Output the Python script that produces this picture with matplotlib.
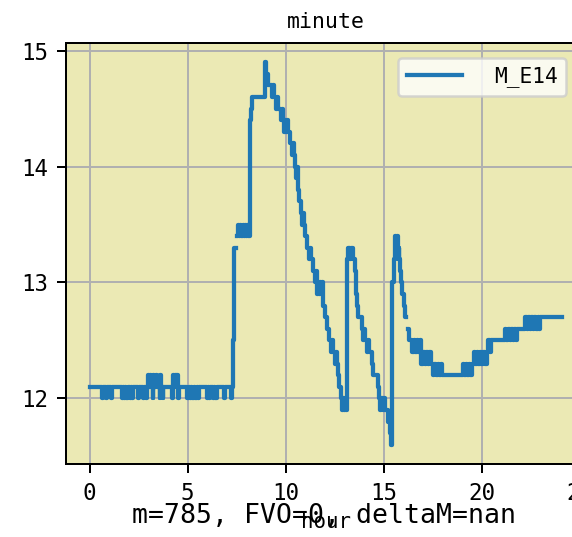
import matplotlib
matplotlib.use('Agg')
import matplotlib.pyplot as plt
from matplotlib.ticker import MultipleLocator
import numpy as np

plt.rcParams['font.family'] = ['DejaVu Sans Mono']

nan = np.nan

# readings per minute, hour of day -> value (step changes only)
# night part, flat around 12.1
hours_night = [0.00, 0.62, 0.67, 0.85, 0.90, 1.08, 1.12,
               1.63, 1.70, 1.76, 1.82, 1.88, 1.94, 2.05, 2.10, 2.16, 2.21,
               2.45, 2.52, 2.70, 2.76, 2.88, 2.93, 2.98, 3.03, 3.10, 3.15,
               3.21, 3.25, 3.30, 3.38, 3.43, 3.57, 3.61, 3.66, 3.72, 3.76,
               4.18, 4.23, 4.30, 4.34, 4.50, 4.55,
               4.98, 5.05, 5.10, 5.17, 5.24, 5.31, 5.38, 5.45, 5.52, 5.60,
               5.97, 6.03, 6.08, 6.14, 6.28, 6.33, 6.40, 6.48, 6.86, 6.92,
               7.20, 7.25]
vals_night = [12.1, 12.0, 12.1, 12.0, 12.1, 12.0, 12.1,
              12.0, 12.1, 12.0, 12.1, 12.0, 12.1, 12.0, 12.1, 12.0, 12.1,
              12.0, 12.1, 12.0, 12.1, 12.0, 12.1, 12.2, 12.1, 12.2, 12.1,
              12.0, 12.2, 12.1, 12.2, 12.1, 12.0, 12.2, 12.1, 12.0, 12.1,
              12.0, 12.2, 12.1, 12.2, 12.0, 12.1,
              12.0, 12.1, 12.0, 12.1, 12.0, 12.1, 12.0, 12.1, 12.0, 12.1,
              12.0, 12.1, 12.0, 12.1, 12.0, 12.1, 12.0, 12.1, 12.0, 12.1,
              12.0, 12.1]

# morning rise and first fall
hours_rise = [7.30, 7.34, 7.38, 7.45,
              7.50, 7.56, 7.62, 7.68, 7.74, 7.80, 7.86, 7.92, 7.98, 8.04, 8.10,
              8.16, 8.22, 8.28,
              8.93, 8.97, 9.05, 9.10, 9.28, 9.33, 9.38,
              9.50, 9.55, 9.60,
              9.75, 9.80, 9.85, 9.90, 9.95, 10.00, 10.05, 10.10,
              10.20, 10.30, 10.35, 10.40, 10.45, 10.50, 10.55, 10.60,
              10.65, 10.70, 10.80, 10.85, 10.90, 10.95,
              11.00, 11.10, 11.20, 11.25, 11.30, 11.40,
              11.50, 11.55, 11.60, 11.65, 11.70, 11.75, 11.80, 11.85,
              11.90, 12.00, 12.10, 12.20, 12.30, 12.35, 12.40,
              12.50, 12.55, 12.60, 12.65, 12.72, 12.80, 12.85, 12.90, 12.95, 13.00, 13.05]
vals_rise = [12.5, 12.9, 13.3, nan,
             13.4, 13.5, 13.4, 13.5, 13.4, 13.5, 13.4, 13.5, 13.4, 13.5, 13.4,
             14.4, 14.5, 14.6,
             14.9, 14.7, 14.8, 14.7, 14.6, 14.7, 14.6,
             14.5, 14.6, 14.5,
             14.4, 14.5, 14.4, 14.3, 14.4, 14.3, 14.4, 14.3,
             14.2, 14.1, 14.2, 14.1, 14.0, 13.9, 14.0, 13.9,
             13.8, 13.7, 13.6, 13.5, 13.6, 13.5,
             13.4, 13.3, 13.2, 13.3, 13.2, 13.1,
             13.0, 13.1, 12.9, 13.0, 12.9, 13.0, 12.9, 13.0,
             12.8, 12.7, 12.6, 12.5, 12.4, 12.5, 12.4,
             12.3, 12.4, 12.3, 12.2, 12.1, 12.0, 11.9, 12.0, 11.9, 12.0, 11.9]

# two afternoon spikes
hours_spikes = [13.10, 13.15, 13.20, 13.25, 13.30, 13.35, 13.42, 13.52,
                13.56, 13.60, 13.64, 13.68,
                13.90, 13.95, 14.00, 14.05, 14.15, 14.20, 14.25,
                14.40, 14.45, 14.70, 14.75, 14.82, 14.88, 14.94, 15.00, 15.06,
                15.20, 15.30, 15.36,
                15.42, 15.50, 15.55, 15.60, 15.65, 15.70, 15.75, 15.80,
                15.85, 15.90, 15.95, 16.02, 16.08, 16.15]
vals_spikes = [13.2, 13.3, 13.2, 13.3, 13.2, 13.3, 13.2, 13.1,
               13.0, 12.9, 12.8, 12.7,
               12.6, 12.5, 12.6, 12.5, 12.4, 12.5, 12.4,
               12.3, 12.2, 12.1, 12.0, 11.9, 12.0, 11.9, 12.0, 11.9,
               11.8, 11.7, 11.6,
               13.0, 13.2, 13.4, 13.3, 13.4, 13.2, 13.3, 13.2,
               13.1, 13.0, 12.9, 12.8, 12.7, nan]

# evening, slow recovery
hours_evening = [16.22, 16.30, 16.45, 16.52, 16.60, 16.68, 16.76, 16.84,
                 16.92, 17.00, 17.08, 17.16, 17.24, 17.32, 17.40,
                 17.50, 17.58, 17.66, 17.74, 17.82, 17.90, 17.98,
                 19.03, 19.10, 19.18, 19.26, 19.34, 19.42, 19.50,
                 19.58, 19.66, 19.74, 19.82, 19.90, 19.98, 20.06, 20.14,
                 20.25, 20.32, 20.40, 20.48,
                 21.17, 21.25, 21.33, 21.41, 21.49, 21.57, 21.65, 21.73, 21.81,
                 22.20, 22.28, 22.36, 22.44, 22.52, 22.60, 22.68, 22.76, 22.84, 22.92, 22.98,
                 24.08]
vals_evening = [12.6, 12.5, 12.4, 12.5, 12.4, 12.5, 12.4, 12.5,
                12.3, 12.4, 12.3, 12.4, 12.3, 12.4, 12.3,
                12.2, 12.3, 12.2, 12.3, 12.2, 12.3, 12.2,
                12.3, 12.2, 12.3, 12.2, 12.3, 12.2, 12.3,
                12.4, 12.3, 12.4, 12.3, 12.4, 12.3, 12.4, 12.3,
                12.4, 12.5, 12.4, 12.5,
                12.6, 12.5, 12.6, 12.5, 12.6, 12.5, 12.6, 12.5, 12.6,
                12.7, 12.6, 12.7, 12.6, 12.7, 12.6, 12.7, 12.6, 12.7, 12.6, 12.7,
                12.7]

hours = np.array(hours_night + hours_rise + hours_spikes + hours_evening)
vals = np.array(vals_night + vals_rise + vals_spikes + vals_evening)

W, H = 572, 537
fig = plt.figure(figsize=(W / 180, H / 180), dpi=180)
# axes run past the right edge like in the original picture
ax = fig.add_axes([66 / W, 1 - 464 / H, (585.5 - 66) / W, (464 - 43) / H])
ax.set_facecolor('#ebe9b4')

ax.plot(hours, vals, drawstyle='steps-post', color='#1f77b4', lw=1.7, label='M_E14')
ax.grid(True, color='#b0b0b0', lw=0.8)
ax.yaxis.set_major_locator(MultipleLocator(1))

ax.set_title('minute', fontsize=8.6)
ax.set_xlabel('hour', fontsize=8.3, labelpad=3)
ax.tick_params(labelsize=9)

ax.legend(loc='upper right', bbox_to_anchor=(566 / W, 1 - 58 / H),
          bbox_transform=fig.transFigure, borderaxespad=0,
          fontsize=8.5, handlelength=2.6, handletextpad=1.5)

fig.text(324 / W, 1 - 523 / H, 'm=785, FVO=0, deltaM=nan',
         ha='center', va='baseline', fontsize=10.6)

fig.savefig('out.png', dpi=180)
